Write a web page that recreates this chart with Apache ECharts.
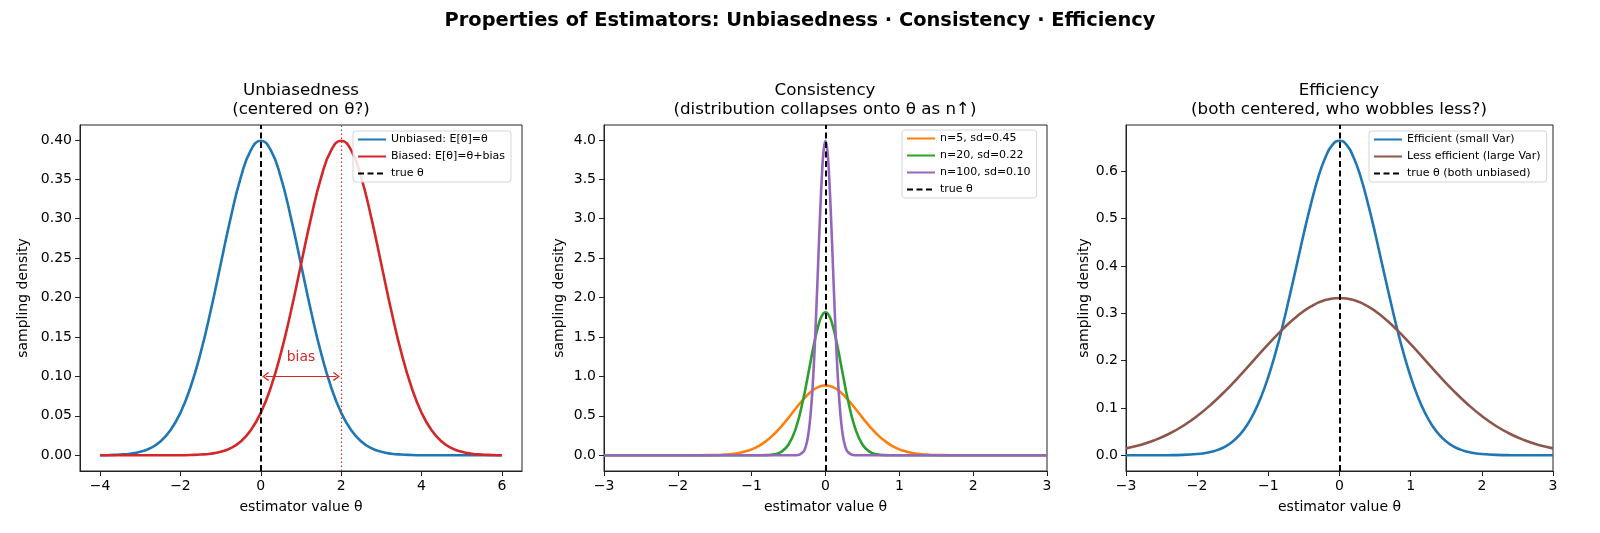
<!DOCTYPE html>
<html>
<head>
<meta charset="utf-8">
<script src="https://cdn.jsdelivr.net/npm/echarts@6/dist/echarts.min.js"></script>
<style>
html, body { margin: 0; padding: 0; background: #fff; }
#chart { width: 1600px; height: 533px; }
</style>
</head>
<body>
<div id="chart"></div>
<script>
// ---- data ----
var trueTheta = 0;
var biasedMean = 2;
var biasArrowY = 0.1;

// panel 1: unbiased vs biased
var p1X = [-4,-3.75,-3.5,-3.25,-3,-2.75,-2.5,-2.25,-2,-1.75,-1.5,-1.25,-1,-0.75,-0.5,-0.25,0,0.25,0.5,0.75,1,1.25,1.5,1.75,2,2.25,2.5,2.75,3,3.25,3.5,3.75,4,4.25,4.5,4.75,5,5.25,5.5,5.75,6];
var unbiased = [0.0001,0.0004,0.0009,0.0020,0.0044,0.0091,0.0175,0.0317,0.0540,0.0863,0.1295,0.1826,0.2420,0.3011,0.3521,0.3867,0.3989,0.3867,0.3521,0.3011,0.2420,0.1826,0.1295,0.0863,0.0540,0.0317,0.0175,0.0091,0.0044,0.0020,0.0009,0.0004,0.0001,0,0,0,0,0,0,0,0];
var biased = [0,0,0,0,0,0,0,0,0.0001,0.0004,0.0009,0.0020,0.0044,0.0091,0.0175,0.0317,0.0540,0.0863,0.1295,0.1826,0.2420,0.3011,0.3521,0.3867,0.3989,0.3867,0.3521,0.3011,0.2420,0.1826,0.1295,0.0863,0.0540,0.0317,0.0175,0.0091,0.0044,0.0020,0.0009,0.0004,0.0001];

// panel 2: consistency
var n5X = [-3,-2,-1.8,-1.6,-1.5,-1.4,-1.3,-1.2,-1.1,-1,-0.9,-0.8,-0.7,-0.6,-0.5,-0.4,-0.3,-0.2,-0.1,0,0.1,0.2,0.3,0.4,0.5,0.6,0.7,0.8,0.9,1,1.1,1.2,1.3,1.4,1.5,1.6,1.8,2,3];
var n5Y = [0,0,0.0003,0.0016,0.0034,0.0070,0.0137,0.025,0.045,0.075,0.120,0.183,0.264,0.364,0.478,0.597,0.710,0.803,0.865,0.887,0.865,0.803,0.710,0.597,0.478,0.364,0.264,0.183,0.120,0.075,0.045,0.025,0.0137,0.0070,0.0034,0.0016,0.0003,0,0];
var n20X = [-3,-1,-0.9,-0.8,-0.7,-0.6,-0.5,-0.4,-0.3,-0.25,-0.2,-0.15,-0.1,-0.05,0,0.05,0.1,0.15,0.2,0.25,0.3,0.4,0.5,0.6,0.7,0.8,0.9,1,3];
var n20Y = [0,0,0.0004,0.0024,0.0115,0.044,0.137,0.347,0.716,0.951,1.200,1.437,1.635,1.767,1.813,1.767,1.635,1.437,1.200,0.951,0.716,0.347,0.137,0.044,0.0115,0.0024,0.0004,0,0];
var n100X = [-3,-0.5,-0.4,-0.35,-0.3,-0.275,-0.25,-0.225,-0.2,-0.175,-0.15,-0.125,-0.1,-0.075,-0.05,-0.025,0,0.025,0.05,0.075,0.1,0.125,0.15,0.175,0.2,0.225,0.25,0.275,0.3,0.35,0.4,0.5,3];
var n100Y = [0,0,0.001,0.009,0.044,0.091,0.175,0.317,0.540,0.863,1.295,1.826,2.420,3.011,3.521,3.867,3.989,3.867,3.521,3.011,2.420,1.826,1.295,0.863,0.540,0.317,0.175,0.091,0.044,0.009,0.001,0,0];

// panel 3: efficiency
var effX = [-3,-2.6,-2.4,-2.2,-2,-1.9,-1.8,-1.7,-1.6,-1.5,-1.4,-1.3,-1.2,-1.1,-1,-0.9,-0.8,-0.7,-0.6,-0.5,-0.4,-0.3,-0.2,-0.1,0,0.1,0.2,0.3,0.4,0.5,0.6,0.7,0.8,0.9,1,1.1,1.2,1.3,1.4,1.5,1.6,1.7,1.8,1.9,2,2.2,2.4,2.6,3];
var effY = [0,0.0001,0.0002,0.0008,0.0026,0.0044,0.0074,0.012,0.019,0.0292,0.0437,0.0636,0.090,0.124,0.166,0.216,0.273,0.337,0.403,0.470,0.532,0.587,0.629,0.656,0.6649,0.656,0.629,0.587,0.532,0.470,0.403,0.337,0.273,0.216,0.166,0.124,0.090,0.0636,0.0437,0.0292,0.019,0.012,0.0074,0.0044,0.0026,0.0008,0.0002,0.0001,0];
var lessX = [-3,-2.8,-2.6,-2.4,-2.2,-2,-1.8,-1.6,-1.4,-1.2,-1,-0.8,-0.6,-0.4,-0.2,0,0.2,0.4,0.6,0.8,1,1.2,1.4,1.6,1.8,2,2.2,2.4,2.6,2.8,3];
var lessY = [0.0146,0.0218,0.0318,0.0450,0.0619,0.0829,0.1080,0.1367,0.1683,0.2017,0.2349,0.2662,0.2934,0.3145,0.3280,0.3325,0.3280,0.3145,0.2934,0.2662,0.2349,0.2017,0.1683,0.1367,0.1080,0.0829,0.0619,0.0450,0.0318,0.0218,0.0146];

// tick labels
var p1XTicks = [-4,-2,0,2,4,6];
var p1YTicks = [0,0.05,0.1,0.15,0.2,0.25,0.3,0.35,0.4];
var p2XTicks = [-3,-2,-1,0,1,2,3];
var p2YTicks = [0,0.5,1,1.5,2,2.5,3,3.5,4];
var p3XTicks = [-3,-2,-1,0,1,2,3];
var p3YTicks = [0,0.1,0.2,0.3,0.4,0.5,0.6];

var font = "'DejaVu Sans', sans-serif";
var chart = echarts.init(document.getElementById('chart'));

function pairs(xs, ys) {
	return xs.map(function (x, i) { return [x, ys[i]]; });
}
function fmt(d) {
	return function (v) { return (v < 0 ? '\u2212' : '') + Math.abs(v).toFixed(d); };
}
function xAx(g, min, max, ticks) {
	return {
		type: 'value', gridIndex: g, min: min, max: max,
		name: 'estimator value θ', nameLocation: 'middle', nameGap: 29,
		nameTextStyle: { fontSize: 14, color: '#000', fontFamily: font },
		axisLine: { onZero: false, lineStyle: { color: '#222', width: 1 } },
		axisTick: { customValues: ticks, length: 5, lineStyle: { color: '#222' } },
		axisLabel: { customValues: ticks, formatter: fmt(0), fontSize: 14, color: '#000', fontFamily: font, margin: 8 },
		splitLine: { show: false }
	};
}
function yAx(g, min, max, ticks, d, gap) {
	return {
		type: 'value', gridIndex: g, min: min, max: max,
		name: 'sampling density', nameLocation: 'middle', nameGap: gap,
		nameTextStyle: { fontSize: 14, color: '#000', fontFamily: font },
		axisLine: { onZero: false, lineStyle: { color: '#222', width: 1 } },
		axisTick: { customValues: ticks, length: 5, lineStyle: { color: '#222' } },
		axisLabel: { customValues: ticks, formatter: fmt(d), fontSize: 14, color: '#000', fontFamily: font, margin: 8 },
		splitLine: { show: false }
	};
}
function curve(name, g, data, color) {
	return {
		name: name, type: 'line', xAxisIndex: g, yAxisIndex: g, data: data,
		smooth: true, symbol: 'none', z: 3,
		lineStyle: { color: color, width: 2.6 }, itemStyle: { color: color }
	};
}
function thetaLine(name, g) {
	return {
		name: name, type: 'line', xAxisIndex: g, yAxisIndex: g, data: [], symbol: 'none',
		lineStyle: { color: '#000', width: 2, type: [6, 3.5] }, itemStyle: { color: '#000' },
		markLine: {
			silent: true, symbol: 'none', animation: false, label: { show: false },
			lineStyle: { color: '#000', width: 2, type: [6, 3.5] },
			data: [{ xAxis: trueTheta }]
		}
	};
}
function legend(left, top, names) {
	return {
		left: left, top: top, orient: 'vertical', data: names,
		itemWidth: 28, itemHeight: 12, itemGap: 6, padding: [3, 6, 3, 4],
		borderColor: '#d5d5d5', borderWidth: 1, borderRadius: 3,
		backgroundColor: 'rgba(255,255,255,0.85)',
		itemStyle: { opacity: 0 },
		textStyle: { fontSize: 11, color: '#000', fontFamily: font }
	};
}

var chevron = 'path://M5,0 L10,6 L9,7 L5,2.2 L1,7 L0,6 Z';

var option = {
	animation: false,
	backgroundColor: '#fff',
	title: [
		{ text: 'Properties of Estimators: Unbiasedness · Consistency · Efficiency', left: 'center', top: 11, padding: 0,
			textStyle: { fontSize: 19.4, fontWeight: 'bold', color: '#000', fontFamily: font } },
		{ text: 'Unbiasedness\n(centered on θ?)', left: 301, top: 81, textAlign: 'center', padding: 0,
			textStyle: { fontSize: 16.7, fontWeight: 'normal', color: '#000', lineHeight: 19, fontFamily: font } },
		{ text: 'Consistency\n(distribution collapses onto θ as n↑)', left: 825, top: 81, textAlign: 'center', padding: 0,
			textStyle: { fontSize: 16.7, fontWeight: 'normal', color: '#000', lineHeight: 19, fontFamily: font } },
		{ text: 'Efficiency\n(both centered, who wobbles less?)', left: 1339, top: 81, textAlign: 'center', padding: 0,
			textStyle: { fontSize: 16.7, fontWeight: 'normal', color: '#000', lineHeight: 19, fontFamily: font } }
	],
	grid: [
		{ left: 80, top: 125, width: 442, height: 346, show: true, borderColor: '#222', borderWidth: 1, backgroundColor: '#fff' },
		{ left: 604, top: 125, width: 443, height: 346, show: true, borderColor: '#222', borderWidth: 1, backgroundColor: '#fff' },
		{ left: 1126, top: 125, width: 427, height: 346, show: true, borderColor: '#222', borderWidth: 1, backgroundColor: '#fff' }
	],
	xAxis: [
		xAx(0, -4.5, 6.5, p1XTicks),
		xAx(1, -3, 3, p2XTicks),
		xAx(2, -3, 3, p3XTicks)
	],
	yAxis: [
		yAx(0, -0.01995, 0.41885, p1YTicks, 2, 50),
		yAx(1, -0.1995, 4.1885, p2YTicks, 1, 38),
		yAx(2, -0.03325, 0.69815, p3YTicks, 1, 34)
	],
	legend: [
		legend(353, 131, ['Unbiased: E[θ]=θ', 'Biased: E[θ]=θ+bias', 'true θ']),
		legend(902, 130, ['n=5, sd=0.45', 'n=20, sd=0.22', 'n=100, sd=0.10', 'true θ']),
		legend(1369, 131, ['Efficient (small Var)', 'Less efficient (large Var)', 'true θ (both unbiased)'])
	],
	series: [
		curve('Unbiased: E[θ]=θ', 0, pairs(p1X, unbiased), '#1f77b4'),
		curve('Biased: E[θ]=θ+bias', 0, pairs(p1X, biased), '#d62728'),
		{
			type: 'line', xAxisIndex: 0, yAxisIndex: 0, data: [], symbol: 'none',
			markLine: {
				silent: true, symbol: 'none', animation: false, label: { show: false },
				lineStyle: { color: '#d62728', width: 1.2, type: [1.5, 2.5] },
				data: [{ xAxis: biasedMean }]
			}
		},
		{
			type: 'line', xAxisIndex: 0, yAxisIndex: 0, data: [], symbol: 'none',
			markLine: {
				silent: true, animation: false, symbol: [chevron, chevron], symbolSize: [9, 7],
				lineStyle: { color: '#d62728', width: 1.2, type: 'solid' },
				label: { show: true, formatter: 'bias', position: 'middle', distance: 12, color: '#d62728', fontSize: 13.9, fontFamily: font },
				data: [[{ coord: [trueTheta + 0.12, biasArrowY] }, { coord: [biasedMean - 0.12, biasArrowY] }]]
			}
		},
		thetaLine('true θ', 0),

		curve('n=5, sd=0.45', 1, pairs(n5X, n5Y), '#ff7f0e'),
		curve('n=20, sd=0.22', 1, pairs(n20X, n20Y), '#2ca02c'),
		curve('n=100, sd=0.10', 1, pairs(n100X, n100Y), '#9467bd'),
		thetaLine('true θ', 1),

		curve('Efficient (small Var)', 2, pairs(effX, effY), '#1f77b4'),
		curve('Less efficient (large Var)', 2, pairs(lessX, lessY), '#8c564b'),
		thetaLine('true θ (both unbiased)', 2)
	]
};
chart.setOption(option);
</script>
</body>
</html>
